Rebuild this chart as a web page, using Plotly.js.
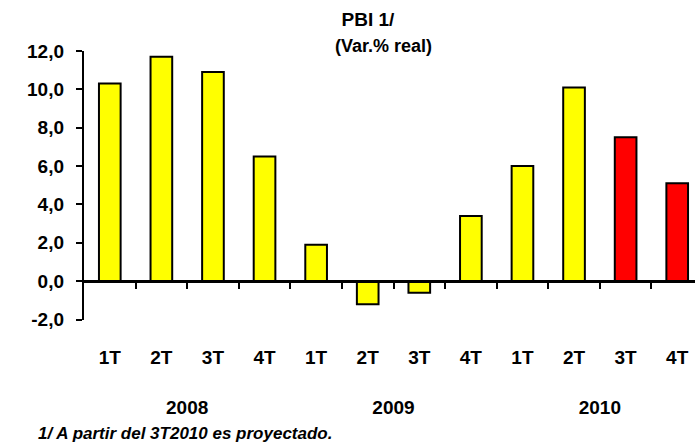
<!DOCTYPE html>
<html>
<head>
<meta charset="utf-8">
<script src="https://cdn.plot.ly/plotly-3.0.1.min.js"></script>
<style>
html,body{margin:0;padding:0;overflow:hidden;background:#fff;}
#chart{width:703px;height:444px;}
</style>
</head>
<body>
<div id="chart"></div>
<script>
// ---- data ----
const quarters = ['1T','2T','3T','4T','1T','2T','3T','4T','1T','2T','3T','4T'];
const years = ['2008','2009','2010'];
const pbi = [10.3, 11.7, 10.9, 6.5, 1.9, -1.2, -0.6, 3.4, 6.0, 10.1, 7.5, 5.1];
const projected = [false,false,false,false,false,false,false,false,false,false,true,true];
const yTicks = [-2, 0, 2, 4, 6, 8, 10, 12];
const titleText = 'PBI 1/';
const subtitleText = '(Var.% real)';
const footnote = '1/ A partir del 3T2010 es proyectado.';

// ---- derived ----
const idx = quarters.map((_, i) => i);
const boundaries = idx.slice(1).map(i => i - 0.5);
const yearPos = years.map((_, k) => k * 4 + 1.5);
const colors = projected.map(p => p ? '#FF0000' : '#FFFF00');
const yTickText = yTicks.map(v => '<b>' + v.toFixed(1).replace('.', ',') + '</b>');

const FONT = '"Liberation Sans", Arial, sans-serif';
const H = 444, T = 51, B = 30;
const paperH = H - T - B;
const f = y => (H - B - y) / paperH;

const traces = [
  {
    type: 'bar', x: idx, y: pbi, xaxis: 'x', yaxis: 'y',
    marker: {color: colors, line: {color: '#000', width: 2}},
    hoverinfo: 'y'
  },
  {
    type: 'scatter', mode: 'markers', x: idx, y: pbi, xaxis: 'x2', yaxis: 'y',
    marker: {size: 0, opacity: 0}, hoverinfo: 'skip', showlegend: false
  },
  {
    type: 'scatter', mode: 'markers', x: idx, y: pbi, xaxis: 'x3', yaxis: 'y',
    marker: {size: 0, opacity: 0}, hoverinfo: 'skip', showlegend: false
  }
];

const xr = [-0.5, quarters.length - 0.5];
const layout = {
  width: 703, height: H,
  margin: {l: 84, r: 0, t: T, b: B, pad: 0},
  paper_bgcolor: '#fff', plot_bgcolor: 'rgba(0,0,0,0)',
  separators: ',.',
  showlegend: false,
  bargap: 0.58,
  font: {family: FONT, color: '#000', size: 16},
  title: {
    text: '<b>' + titleText + '</b>',
    xref: 'container', x: 368 / 703, xanchor: 'center',
    yref: 'container', y: 1 - 19 / H, yanchor: 'middle',
    font: {family: FONT, size: 19, color: '#000'}
  },
  xaxis: {
    range: xr, anchor: 'free', position: f(281.3),
    showgrid: false, zeroline: false,
    showline: true, linecolor: '#000', linewidth: 2.2,
    tickmode: 'array', tickvals: boundaries, ticktext: boundaries.map(() => ''),
    ticks: 'outside', ticklen: 6, tickwidth: 2, tickcolor: '#000',
    showticklabels: false, fixedrange: true
  },
  xaxis2: {
    range: xr, overlaying: 'x', anchor: 'free', position: f(344),
    showgrid: false, zeroline: false, showline: false, ticks: '',
    tickmode: 'array', tickvals: idx, ticktext: quarters.map(q => '<b>' + q + '</b>'),
    tickfont: {family: FONT, size: 19, color: '#000'}, fixedrange: true
  },
  xaxis3: {
    range: xr, overlaying: 'x', anchor: 'free', position: f(394),
    showgrid: false, zeroline: false, showline: false, ticks: '',
    tickmode: 'array', tickvals: yearPos, ticktext: years.map(y => '<b>' + y + '</b>'),
    tickfont: {family: FONT, size: 19, color: '#000'}, fixedrange: true
  },
  yaxis: {
    range: [-2, 12], domain: [f(319.5), 1],
    showgrid: false, zeroline: false,
    showline: true, linecolor: '#000', linewidth: 2.2,
    tickmode: 'array', tickvals: yTicks, ticktext: yTickText,
    ticks: 'outside', ticklen: 6, tickwidth: 2, tickcolor: '#000',
    ticklabelstandoff: 8,
    tickfont: {family: FONT, size: 19, color: '#000'},
    fixedrange: true
  },
  annotations: [
    {
      text: '<b>' + subtitleText + '</b>', xref: 'paper', yref: 'paper',
      x: (383 - 84) / 619, y: f(46), xanchor: 'center', yanchor: 'middle',
      showarrow: false, font: {family: FONT, size: 18, color: '#000'}
    },
    {
      text: '<b><i>' + footnote + '</i></b>', xref: 'paper', yref: 'paper',
      x: (36 - 84) / 619, y: f(433), xanchor: 'left', yanchor: 'middle',
      showarrow: false, font: {family: FONT, size: 17, color: '#000'}
    }
  ]
};

Plotly.newPlot('chart', traces, layout, {displayModeBar: false, staticPlot: true});
</script>
</body>
</html>
